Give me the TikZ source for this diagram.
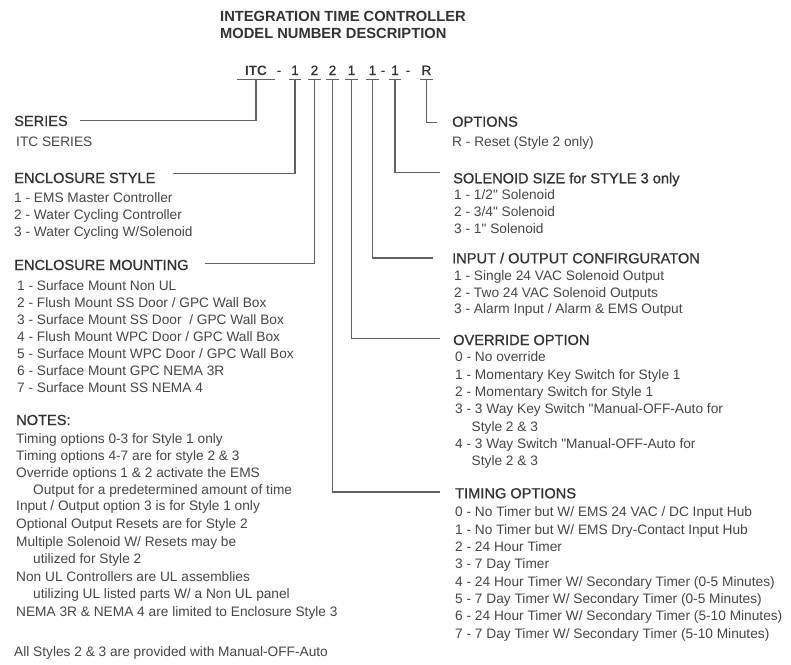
\documentclass[tikz,border=0pt]{standalone}
\usepackage{fontspec}
\setmainfont{Liberation Sans}[Ligatures=TeXOff]
\newfontfamily\headf{Liberation Sans}[Ligatures=TeXOff,FakeBold=0.8]
\definecolor{txt}{gray}{0.28}
\definecolor{hd}{gray}{0.2}
\definecolor{ln}{gray}{0.38}
\begin{document}
\begin{tikzpicture}[x=1pt,y=-1pt,
 item/.style={font=\fontsize{13.7}{16}\selectfont, text=txt, inner sep=0pt, anchor=base west},
 head/.style={font=\headf\fontsize{14.6}{17}\selectfont, text=hd, inner sep=0pt, anchor=base west, text height=10.5pt, text depth=0pt},
 ttl/.style={font=\bfseries\fontsize{14.7}{17}\selectfont, text=hd, inner sep=0pt, anchor=base west},
 code/.style={font=\headf\fontsize{13.5}{16}\selectfont, text=hd, inner xsep=0pt, inner ysep=4pt, text height=9.5pt, text depth=0pt, anchor=base, minimum width=12pt},
 conn/.style={draw=ln, line width=1.2pt},
 uline/.style={draw=ln, line width=1.2pt}
]
\useasboundingbox[fill=white] (0,0) rectangle (791,664);

% title
\node[ttl] (t1) at (220,21.7) {INTEGRATION TIME CONTROLLER};
\node[ttl] (t2) at (220,38.3) {MODEL NUMBER DESCRIPTION};

% model code
\node[code, minimum width=37pt, font=\bfseries\fontsize{13.5}{16}\selectfont] (itc) at (256,75) {ITC};
\node[code, minimum width=0pt] (s1) at (279,75) {-};
\node[code] (d1) at (295,75) {1};
\node[code] (d2) at (314.5,75) {2};
\node[code] (d3) at (332.5,75) {2};
\node[code] (d4) at (351.5,75) {1};
\node[code] (d5) at (372.5,75) {1};
\node[code, minimum width=0pt] (s2) at (383,75) {-};
\node[code] (d6) at (395,75) {1};
\node[code, minimum width=0pt] (s3) at (408,75) {-};
\node[code, minimum width=13pt] (d7) at (426.5,75) {R};
\foreach \n in {itc,d1,d2,d3,d4,d5,d6,d7}
  \draw[uline] (\n.south west) -- (\n.south east);

% left column
\node[head] (series) at (14,126) {SERIES};
\node[item] (series1) at (16,146.5) {ITC SERIES};

\node[head] (estyle) at (14,183) {ENCLOSURE STYLE};
\node[item] (es1) at (14,202) {1 - EMS Master Controller};
\node[item] (es2) at (14,219.3) {2 - Water Cycling Controller};
\node[item] (es3) at (14,236.6) {3 - Water Cycling W/Solenoid};

\node[head] (emount) at (14,270) {ENCLOSURE MOUNTING};
\node[item] (em1) at (17,290.7) {1 - Surface Mount Non UL};
\node[item] (em2) at (17,307.7) {2 - Flush Mount SS Door / GPC Wall Box};
\node[item] (em3) at (17,324.7) {3 - Surface Mount SS Door \ / GPC Wall Box};
\node[item] (em4) at (17,341.7) {4 - Flush Mount WPC Door / GPC Wall Box};
\node[item] (em5) at (17,358.7) {5 - Surface Mount WPC Door / GPC Wall Box};
\node[item] (em6) at (17,375.7) {6 - Surface Mount GPC NEMA 3R};
\node[item] (em7) at (17,392.7) {7 - Surface Mount SS NEMA 4};

\node[head] (notes) at (16,425) {NOTES:};
\node[item] (n1) at (16,443.3) {Timing options 0-3 for Style 1 only};
\node[item] (n2) at (16,460.5) {Timing options 4-7 are for style 2 \& 3};
\node[item] (n3) at (16,477.5) {Override options 1 \& 2 activate the EMS};
\node[item] (n4) at (33,494) {Output for a predetermined amount of time};
\node[item] (n5) at (16,510.7) {Input / Output option 3 is for Style 1 only};
\node[item] (n6) at (16,528.3) {Optional Output Resets are for Style 2};
\node[item] (n7) at (16,546.7) {Multiple Solenoid W/ Resets may be};
\node[item] (n8) at (33,563.3) {utilized for Style 2};
\node[item] (n9) at (16,581) {Non UL Controllers are UL assemblies};
\node[item] (n10) at (33,598.3) {utilizing UL listed parts W/ a Non UL panel};
\node[item] (n11) at (16,616.7) {NEMA 3R \& NEMA 4 are limited to Enclosure Style 3};
\node[item] (all) at (14,656.7) {All Styles 2 \& 3 are provided with Manual-OFF-Auto};

% right column
\node[head] (opts) at (452,126.7) {OPTIONS};
\node[item] (o1) at (452,146.7) {R - Reset (Style 2 only)};

\node[head] (solsize) at (453,183.3) {SOLENOID SIZE for STYLE 3 only};
\node[item] (ss1) at (454,199.5) {1 - 1/2" Solenoid};
\node[item] (ss2) at (454,216.5) {2 - 3/4" Solenoid};
\node[item] (ss3) at (454,233.5) {3 - 1" Solenoid};

\node[head] (io) at (452,263.3) {INPUT / OUTPUT CONFIRGURATON};
\node[item] (io1) at (454,280) {1 - Single 24 VAC Solenoid Output};
\node[item] (io2) at (454,297) {2 - Two 24 VAC Solenoid Outputs};
\node[item] (io3) at (454,313.5) {3 - Alarm Input / Alarm \& EMS Output};

\node[head] (override) at (453,345) {OVERRIDE OPTION};
\node[item] (ov0) at (455,361.5) {0 - No override};
\node[item] (ov1) at (455,379) {1 - Momentary Key Switch for Style 1};
\node[item] (ov2) at (455,396.5) {2 - Momentary Switch for Style 1};
\node[item] (ov3) at (455,413.5) {3 - 3 Way Key Switch "Manual-OFF-Auto for};
\node[item] (ov3b) at (471.5,431) {Style 2 \& 3};
\node[item] (ov4) at (455,448) {4 - 3 Way Switch "Manual-OFF-Auto for};
\node[item] (ov4b) at (471.5,465.5) {Style 2 \& 3};

\node[head] (timing) at (455,498.3) {TIMING OPTIONS};
\node[item] (tm0) at (455,516.7) {0 - No Timer but W/ EMS 24 VAC / DC Input Hub};
\node[item] (tm1) at (455,534.3) {1 - No Timer but W/ EMS Dry-Contact Input Hub};
\node[item] (tm2) at (455,551.7) {2 - 24 Hour Timer};
\node[item] (tm3) at (455,568.7) {3 - 7 Day Timer};
\node[item] (tm4) at (455,586) {4 - 24 Hour Timer W/ Secondary Timer (0-5 Minutes)};
\node[item] (tm5) at (455,603.3) {5 - 7 Day Timer W/ Secondary Timer (0-5 Minutes)};
\node[item] (tm6) at (455,620.7) {6 - 24 Hour Timer W/ Secondary Timer (5-10 Minutes)};
\node[item] (tm7) at (455,638) {7 - 7 Day Timer W/ Secondary Timer (5-10 Minutes)};

% connectors
\draw[conn] (itc.south) |- ([xshift=12pt]series.east);
\draw[conn] (d1.south) |- ([xshift=17pt,yshift=4.4pt]estyle.east);
\draw[conn] (d2.south) |- ([xshift=16pt,yshift=1.4pt]emount.east);
\draw[conn] (d3.south) |- ([xshift=-15pt,yshift=1pt]timing.west);
\draw[conn] (d4.south) |- ([xshift=-13pt,yshift=1.4pt]override.west);
\draw[conn] (d5.south) |- ([xshift=-19pt]io.west);
\draw[conn] (d6.south) |- ([xshift=-13pt,yshift=5.3pt]solsize.west);
\draw[conn] (d7.south) |- ([xshift=-15pt,yshift=-1pt]opts.west);
\end{tikzpicture}
\end{document}
